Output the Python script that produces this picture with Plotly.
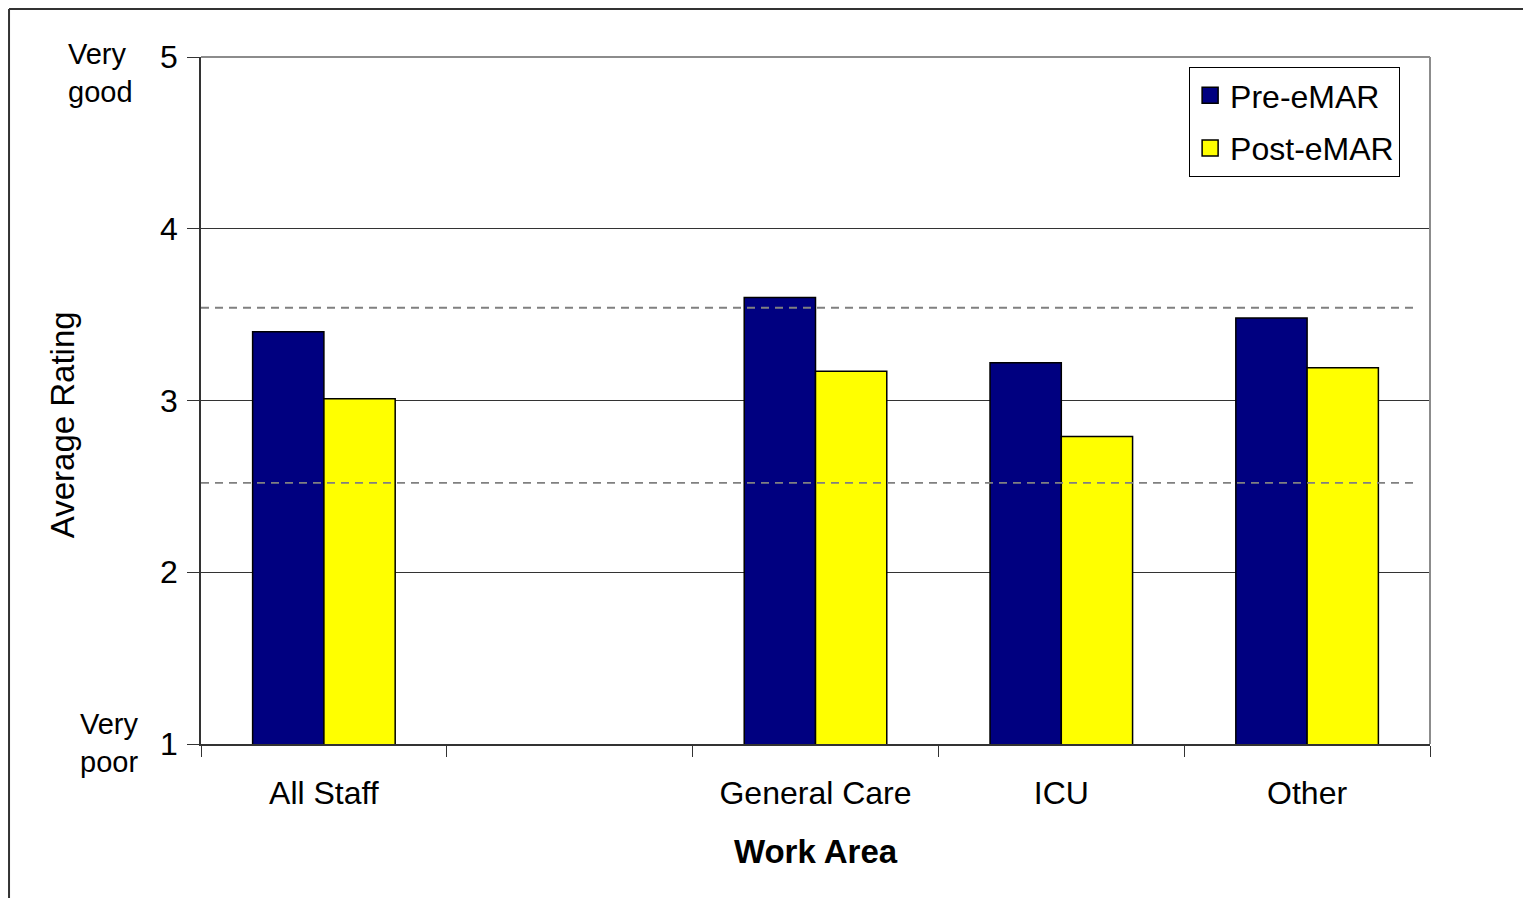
import plotly.graph_objects as go

# ---- data ----
categories = ["All Staff", " ", "General Care", "ICU", "Other"]
pre_emar = [3.40, None, 3.60, 3.22, 3.48]
post_emar = [3.01, None, 3.17, 2.79, 3.19]
ref_lines = [3.54, 2.52]
y_ticks = [1, 2, 3, 4, 5]
series_names = ["Pre-eMAR", "Post-eMAR"]
scale_labels = ["Very<br>good", "Very<br>poor"]

FONT = "Arial, Liberation Sans, sans-serif"
NAVY = "#000080"
YELLOW = "#FFFF00"
FS = 32

fig = go.Figure()
fig.add_trace(go.Bar(
    x=categories, y=pre_emar, name=series_names[0], showlegend=False,
    marker=dict(color=NAVY, line=dict(color="#000000", width=1.5)),
))
fig.add_trace(go.Bar(
    x=categories, y=post_emar, name=series_names[1], showlegend=False,
    marker=dict(color=YELLOW, line=dict(color="#000000", width=1.5)),
))
# legend entries (square swatches like the reference)
for nm, col, grp in [(series_names[0], NAVY, "a"), (series_names[1], YELLOW, "b")]:
    fig.add_trace(go.Scatter(
        x=[None], y=[None], mode="markers", name=nm, legendgroup=grp,
        marker=dict(symbol="square", size=20, color=col, line=dict(color="#000000", width=1.5)),
        hoverinfo="skip",
    ))

shapes = []
# reference dashed lines (drawn above bars)
for v in ref_lines:
    shapes.append(dict(type="line", xref="paper", yref="y", x0=0, x1=0.99, y0=v, y1=v,
                       line=dict(color="#808080", width=1.8, dash="8px,6px"), layer="above"))
# plot area border (top & right), gray
shapes.append(dict(type="line", xref="paper", yref="paper", x0=0, x1=1, y0=1, y1=1,
                   line=dict(color="#8c8c8c", width=2), layer="above"))
shapes.append(dict(type="line", xref="paper", yref="paper", x0=1, x1=1, y0=0, y1=1,
                   line=dict(color="#8c8c8c", width=2), layer="above"))
# outer chart frame (top & left visible)
shapes.append(dict(type="line", xref="paper", yref="paper", x0=-0.1562, x1=1.0806, y0=1.0699, y1=1.0699,
                   line=dict(color="#333333", width=2)))
shapes.append(dict(type="line", xref="paper", yref="paper", x0=-0.1562, x1=-0.1562, y0=1.0699, y1=-0.3,
                   line=dict(color="#333333", width=2)))

annotations = [
    dict(text=scale_labels[0], xref="paper", yref="paper", x=-0.1098, y=0.9767, xanchor="left",
         yanchor="middle", align="left", showarrow=False,
         font=dict(size=29, color="#000000", family=FONT)),
    dict(text=scale_labels[1], xref="paper", yref="paper", x=-0.1001, y=0.002, xanchor="left",
         yanchor="middle", align="left", showarrow=False,
         font=dict(size=29, color="#000000", family=FONT)),
    dict(text="Average Rating", xref="paper", yref="paper", x=-0.1131, y=0.464, xanchor="center",
         yanchor="middle", textangle=-90, showarrow=False,
         font=dict(size=33, color="#000000", family=FONT)),
]

fig.update_layout(
    width=1523, height=890,
    margin=dict(l=193, r=101, t=49, b=154, autoexpand=False),
    paper_bgcolor="white", plot_bgcolor="white",
    font=dict(family=FONT, size=FS, color="#000000"),
    barmode="group", bargap=0.42, bargroupgap=0,
    showlegend=True,
    legend=dict(x=0.804, y=0.9854, xanchor="left", yanchor="top",
                bgcolor="white", bordercolor="#000000", borderwidth=1,
                font=dict(size=FS, family=FONT), tracegroupgap=8,
                itemsizing="trace"),
    shapes=shapes, annotations=annotations,
    xaxis=dict(
        type="category", categoryorder="array", categoryarray=categories,
        tickson="boundaries", ticks="outside", ticklen=11, tickwidth=1, tickcolor="#333333",
        showline=True, linecolor="#333333", linewidth=1.5, showgrid=False, zeroline=False,
        tickfont=dict(size=FS, family=FONT), ticklabelstandoff=20,
        title=dict(text="<b>Work Area</b>", font=dict(size=33, family=FONT), standoff=30),
    ),
    yaxis=dict(
        range=[1, 5], tickvals=y_ticks, ticks="outside", ticklen=12, tickwidth=1, tickcolor="#333333",
        showline=True, linecolor="#333333", linewidth=1.5,
        showgrid=True, gridcolor="#333333", gridwidth=1, zeroline=False,
        tickfont=dict(size=FS, family=FONT), ticklabelstandoff=3,
    ),
)

fig.write_html("out.html")
